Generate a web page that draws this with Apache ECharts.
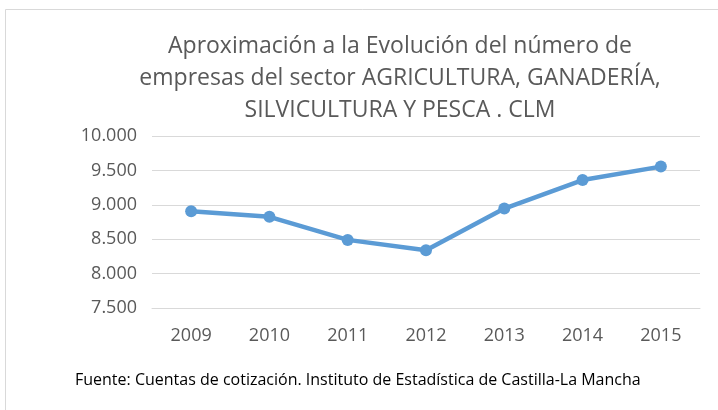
<!DOCTYPE html>
<html><head><meta charset="utf-8">
<script src="https://cdn.jsdelivr.net/npm/echarts@6/dist/echarts.min.js"></script>
<style>html,body{margin:0;padding:0;background:#fff}#c{width:718px;height:410px}</style>
</head><body><div id="c"></div>
<script>
const years = ['2009','2010','2011','2012','2013','2014','2015'];
const empresas = [8905, 8825, 8490, 8340, 8945, 9360, 9555];
const titleLines = ['Aproximación a la Evolución del número de','empresas del sector AGRICULTURA, GANADERÍA,','SILVICULTURA Y PESCA . CLM'];
const sourceText = 'Fuente: Cuentas de cotización. Instituto de Estadística de Castilla-La Mancha';
const FONT = '"Open Sans", sans-serif';
const chart = echarts.init(document.getElementById('c'));
chart.setOption({
  animation:false,
  graphic:[
    {type:'rect',shape:{x:5.5,y:9.5,width:730,height:420},style:{fill:'#fff',stroke:'#d9d9d9',lineWidth:1},z:-10},
    {type:'text',left:75,top:372,style:{text:sourceText,font:'16px '+FONT,fill:'#000'}}
  ],
  title:{text:titleLines.join('\n'),left:395,textAlign:'center',top:25,
    textStyle:{fontFamily:FONT,fontSize:23,fontWeight:'normal',color:'#595959',lineHeight:32}},
  grid:{left:152,right:18,top:136,bottom:102},
  xAxis:{type:'category',data:years,boundaryGap:true,
    axisLine:{show:true,lineStyle:{color:'#d9d9d9'}},axisTick:{show:false},
    axisLabel:{color:'#595959',fontFamily:FONT,fontSize:18,margin:19}},
  yAxis:{type:'value',min:7500,max:10000,interval:500,
    axisLine:{show:false},axisTick:{show:false},
    splitLine:{lineStyle:{color:'#d9d9d9',width:1}},
    axisLabel:{color:'#595959',fontFamily:FONT,fontSize:18,margin:15,
      formatter:v=>{const s=String(v);return s.length>3?s.slice(0,-3)+'.'+s.slice(-3):s;}}},
  series:[{type:'line',data:empresas,symbol:'circle',symbolSize:12,
    lineStyle:{color:'#5b9bd5',width:4.5},itemStyle:{color:'#5b9bd5'}}]
});
</script></body></html>
